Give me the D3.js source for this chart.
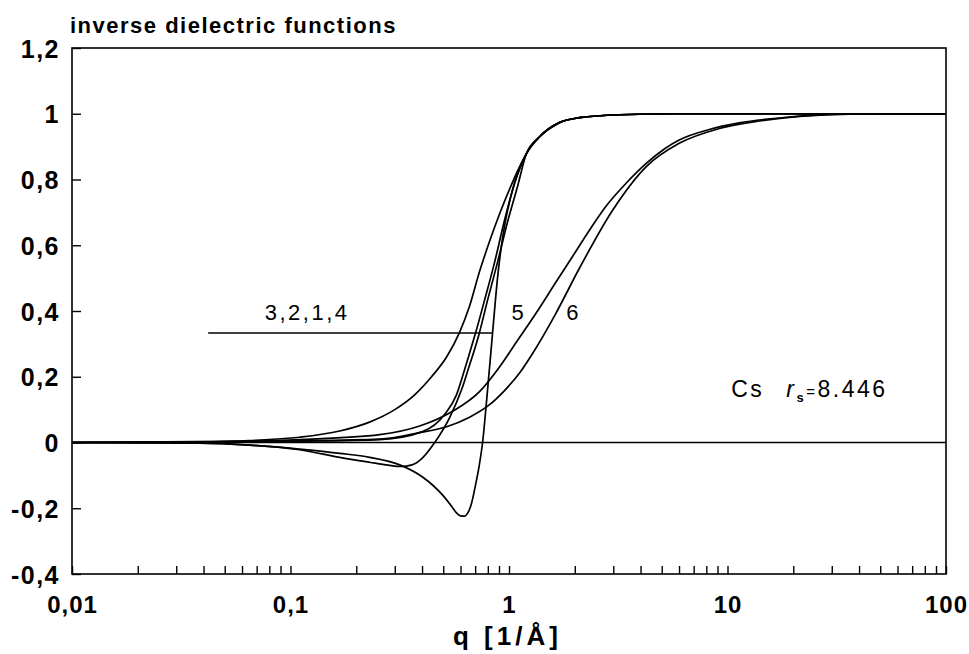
<!DOCTYPE html>
<meta charset="utf-8">
<style>
  body { margin: 0; background: #fff; }
</style>

<!-- Load d3.js -->
<script src="https://d3js.org/d3.v7.min.js"></script>

<!-- Create a div where the graph will take place -->
<div id="my_dataviz"></div>

<script>

// data: [q (1/A), inverse dielectric function]
var curve3 = [[0.01,0],[0.0385,0.002],[0.065,0.006],[0.11,0.016],[0.168,0.035],[0.23,0.062],[0.30,0.1],[0.37,0.145],[0.442,0.2],[0.518,0.26],[0.594,0.335],[0.66,0.415],[0.733,0.52],[0.815,0.612],[0.905,0.695],[1.005,0.77],[1.12,0.84],[1.202,0.879],[1.38,0.93],[1.7,0.973],[2.1,0.988],[3.2,0.997],[6,1],[100,1]];
var curve2 = [[0.01,0],[0.04,0.001],[0.11,0.004],[0.256,0.009],[0.402,0.033],[0.507,0.085],[0.575,0.145],[0.626,0.221],[0.667,0.282],[0.703,0.333],[0.773,0.433],[0.859,0.548],[0.954,0.676],[1.06,0.788],[1.202,0.879],[1.38,0.93],[1.7,0.973],[2.1,0.988],[3.2,0.997],[6,1],[100,1]];
var curve1 = [[0.01,0],[0.0385,-0.002],[0.065,-0.008],[0.11,-0.022],[0.168,-0.045],[0.23,-0.06],[0.28,-0.069],[0.32,-0.073],[0.36,-0.068],[0.40,-0.048],[0.457,0],[0.535,0.076],[0.607,0.161],[0.66,0.236],[0.695,0.282],[0.726,0.325],[0.798,0.433],[0.886,0.548],[0.984,0.67],[1.094,0.779],[1.202,0.879],[1.38,0.93],[1.7,0.973],[2.1,0.988],[3.2,0.997],[6,1],[100,1]];
var curve4 = [[0.01,0],[0.0385,-0.002],[0.065,-0.008],[0.11,-0.02],[0.168,-0.033],[0.23,-0.045],[0.316,-0.068],[0.402,-0.105],[0.497,-0.16],[0.549,-0.196],[0.575,-0.214],[0.60,-0.223],[0.625,-0.224],[0.648,-0.214],[0.672,-0.188],[0.70,-0.135],[0.73,-0.072],[0.757,0],[0.798,0.161],[0.841,0.333],[0.886,0.5],[0.924,0.6],[0.974,0.69],[1.06,0.79],[1.202,0.879],[1.38,0.93],[1.7,0.973],[2.1,0.988],[3.2,0.997],[6,1],[100,1]];
var curve5 = [[0.01,0],[0.0385,0.001],[0.11,0.009],[0.256,0.024],[0.39,0.05],[0.552,0.095],[0.733,0.155],[0.905,0.23],[1.08,0.305],[1.32,0.39],[1.63,0.485],[1.95,0.565],[2.33,0.645],[2.79,0.72],[3.45,0.79],[4.26,0.85],[5.14,0.893],[6.01,0.92],[8.25,0.952],[11.3,0.972],[19.1,0.99],[29.2,0.998],[44.5,1],[100,1]];
var curve6 = [[0.01,0],[0.11,0.005],[0.256,0.01],[0.39,0.03],[0.518,0.048],[0.66,0.077],[0.815,0.115],[0.954,0.158],[1.12,0.212],[1.28,0.27],[1.63,0.39],[2.1,0.53],[2.97,0.705],[4.26,0.84],[6.01,0.91],[9.17,0.955],[14,0.978],[21.3,0.992],[36.1,0.999],[100,1]];
var zeroLine = [[0.01,0],[100,0]];
var pointer = [[0.042,0.333],[0.841,0.333]];

var xTickValues = [0.01, 0.1, 1, 10, 100];
var xTickLabels = ["0,01", "0,1", "1", "10", "100"];
var yTickValues = [-0.4, -0.2, 0, 0.2, 0.4, 0.6, 0.8, 1, 1.2];
var yTickLabels = ["-0,4", "-0,2", "0", "0,2", "0,4", "0,6", "0,8", "1", "1,2"];

// set the dimensions and margins of the graph
var margin = {top: 48, right: 23, bottom: 80, left: 72},
  width = 969 - margin.left - margin.right,
  height = 654 - margin.top - margin.bottom;

var font = "'Liberation Sans', Arial, Helvetica, sans-serif";

// append the svg object to the body of the page
var svg = d3.select("#my_dataviz")
  .append("svg")
    .attr("width", width + margin.left + margin.right)
    .attr("height", height + margin.top + margin.bottom)
    .style("background", "#fff")
  .append("g")
    .attr("transform", "translate(" + margin.left + "," + margin.top + ")");

// scales
var x = d3.scaleLog()
  .domain([0.01, 100])
  .range([0, width]);

var y = d3.scaleLinear()
  .domain([-0.4, 1.2])
  .range([height, 0]);

// X axis: minor ticks for every 1..9 of each decade, labels only at decades
var xAxis = svg.append("g")
  .attr("transform", "translate(0," + height + ")")
  .call(d3.axisBottom(x)
    .tickValues(x.ticks())
    .tickSize(-8)
    .tickFormat(function(d) {
      var i = xTickValues.findIndex(function(v) { return Math.abs(v - d) < d * 1e-6; });
      return i < 0 ? "" : xTickLabels[i];
    }));
xAxis.select(".domain").remove();
xAxis.selectAll("line").attr("stroke", "#000").attr("stroke-width", 1.4);
xAxis.selectAll("text")
  .attr("y", 39)
  .attr("dy", 0)
  .style("font-family", font)
  .style("font-weight", "bold")
  .style("font-size", "24px")
  .style("letter-spacing", "1px")
  .style("fill", "#000");

// Y axis
var yAxis = svg.append("g")
  .call(d3.axisLeft(y)
    .tickValues(yTickValues)
    .tickSize(-9)
    .tickPadding(12)
    .tickFormat(function(d, i) { return yTickLabels[i]; }));
yAxis.select(".domain").remove();
yAxis.selectAll("line").attr("stroke", "#000").attr("stroke-width", 1.4);
yAxis.selectAll("text")
  .attr("dy", "0.36em")
  .style("font-family", font)
  .style("font-weight", "bold")
  .style("font-size", "25px")
  .style("letter-spacing", "1.5px")
  .style("fill", "#000");

// frame
svg.append("rect")
  .attr("x", 0)
  .attr("y", 0)
  .attr("width", width)
  .attr("height", height)
  .attr("fill", "none")
  .attr("stroke", "#000")
  .attr("stroke-width", 1.6);

// lines
var line = d3.line()
  .x(function(d) { return x(d[0]); })
  .y(function(d) { return y(d[1]); })
  .curve(d3.curveMonotoneX);

var straight = d3.line()
  .x(function(d) { return x(d[0]); })
  .y(function(d) { return y(d[1]); });

svg.append("path")
  .datum(zeroLine)
  .attr("fill", "none")
  .attr("stroke", "#000")
  .attr("stroke-width", 1.5)
  .attr("d", straight);

svg.append("path")
  .datum(pointer)
  .attr("fill", "none")
  .attr("stroke", "#000")
  .attr("stroke-width", 1.4)
  .attr("d", straight);

svg.selectAll(".curve")
  .data([curve1, curve2, curve3, curve4, curve5, curve6])
  .enter()
  .append("path")
    .attr("class", "curve")
    .attr("fill", "none")
    .attr("stroke", "#000")
    .attr("stroke-width", 1.7)
    .attr("d", line);

// labels on the curves
svg.append("text")
  .attr("x", x(0.0762))
  .attr("y", y(0.373))
  .style("font-family", font)
  .style("font-size", "22px")
  .style("letter-spacing", "2.5px")
  .text("3,2,1,4");

svg.append("text")
  .attr("x", x(1.094))
  .attr("y", y(0.373))
  .attr("text-anchor", "middle")
  .style("font-family", font)
  .style("font-size", "22px")
  .text("5");

svg.append("text")
  .attr("x", x(1.95))
  .attr("y", y(0.373))
  .attr("text-anchor", "middle")
  .style("font-family", font)
  .style("font-size", "22px")
  .text("6");

// Cs  rs=8.446
var cs = svg.append("text")
  .attr("x", x(10.4))
  .attr("y", y(0.139))
  .style("font-family", font)
  .style("font-size", "23px")
  .style("letter-spacing", "2.5px");
cs.append("tspan").text("Cs");
cs.append("tspan").attr("dx", 22).style("font-style", "italic").text("r");
cs.append("tspan").attr("dy", 5).style("font-size", "13px").style("font-weight", "bold").text("s");
cs.append("tspan").attr("dy", -5).style("font-size", "15px").text("=");
cs.append("tspan").text("8.446");

// title
svg.append("text")
  .attr("x", -2)
  .attr("y", -15)
  .style("font-family", font)
  .style("font-weight", "bold")
  .style("font-size", "22px")
  .style("letter-spacing", "1.5px")
  .text("inverse dielectric functions");

// x axis label
svg.append("text")
  .attr("x", x(0.554))
  .attr("y", height + 71)
  .style("font-family", font)
  .style("font-weight", "bold")
  .style("font-size", "26px")
  .style("letter-spacing", "4px")
  .text("q [1/Å]");

</script>
